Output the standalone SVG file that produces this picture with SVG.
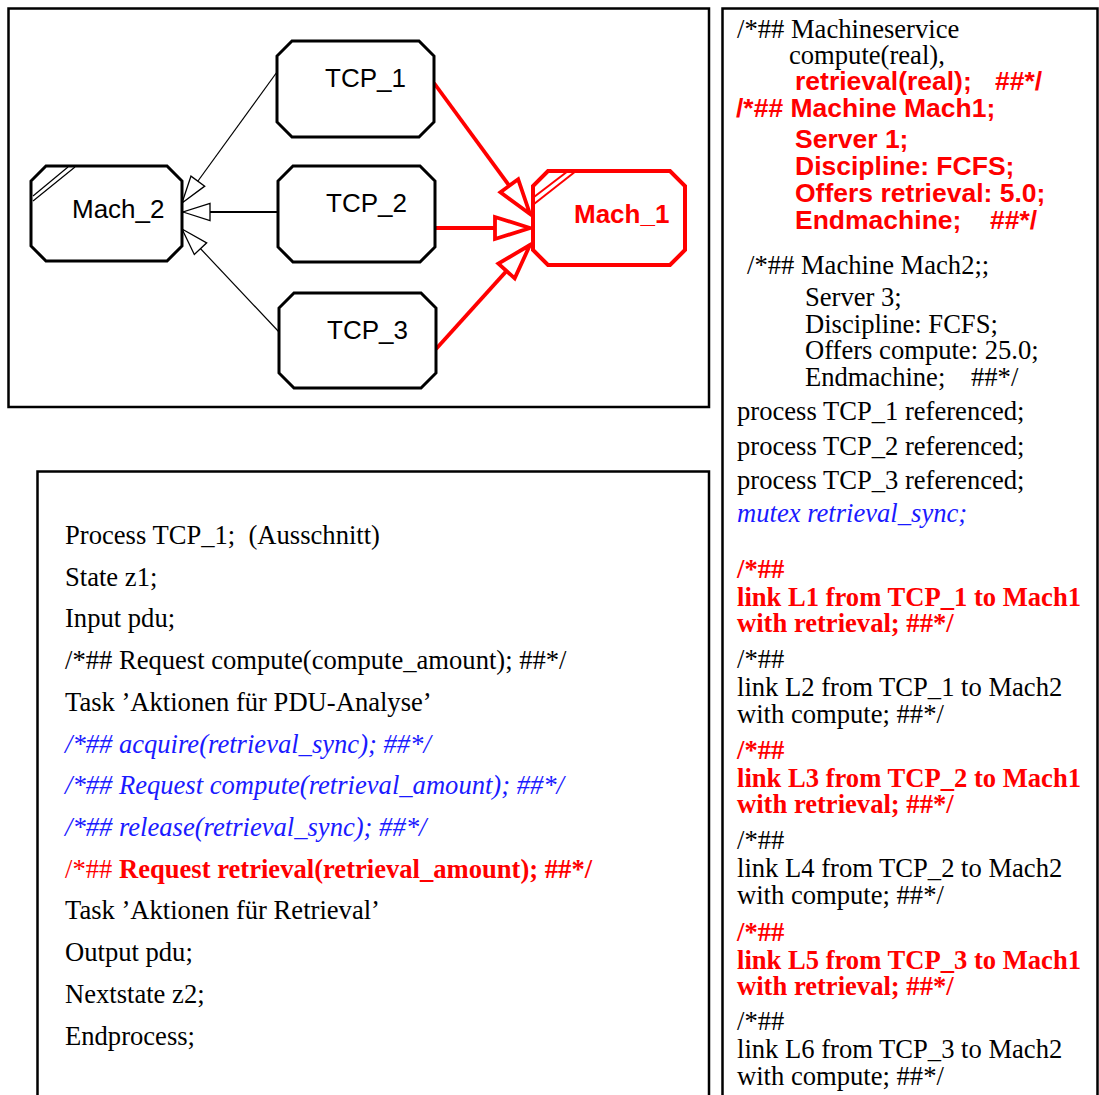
<svg xmlns="http://www.w3.org/2000/svg" width="1099" height="1095" viewBox="0 0 1099 1095" xml:space="preserve">
  <style>
    text { white-space: pre; }
    .panel { fill: none; stroke: #000; stroke-width: 2.5; }
    .node { fill: #fff; stroke: #000; stroke-width: 3; stroke-linejoin: miter; }
    .node-red { fill: #fff; stroke: #ff0000; stroke-width: 4; }
    .hatch { stroke: #000; stroke-width: 1.2; fill: none; }
    .hatch-red { stroke: #ff0000; stroke-width: 2; fill: none; }
    .lbl { font-family: "Liberation Sans", Arial, sans-serif; font-size: 26px; fill: #000; }
    .lbl-red { font-family: "Liberation Sans", Arial, sans-serif; font-size: 26px; font-weight: bold; fill: #ff0000; }
    .conn { fill: none; stroke: #000; stroke-width: 1.2; }
    .conn-mid { fill: none; stroke: #000; stroke-width: 2; }
    .conn-red { fill: none; stroke: #ff0000; stroke-width: 3.8; }
    .code { font-family: "Liberation Serif", "Times New Roman", serif; font-size: 26.6px; fill: #000; }
    .code-red { font-family: "Liberation Serif", "Times New Roman", serif; font-size: 26.6px; font-weight: bold; fill: #ff0000; }
    .code-redlite { font-family: "Liberation Serif", "Times New Roman", serif; font-size: 26.6px; fill: #ff0000; }
    .code-blue { font-family: "Liberation Serif", "Times New Roman", serif; font-size: 26.6px; font-style: italic; fill: #1a1aff; }
    .sans-red { font-family: "Liberation Sans", Arial, sans-serif; font-size: 26.5px; font-weight: bold; fill: #ff0000; }
  </style>
  <defs>
    <marker id="arrowOpen" markerUnits="userSpaceOnUse" viewBox="-30 -12 32 24" refX="0" refY="0" markerWidth="32" markerHeight="24" orient="auto" overflow="visible">
      <path d="M0,0 L-27,-8.5 L-27,8.5 Z" fill="#fff" stroke="#000" stroke-width="1.3"/>
    </marker>
    <marker id="arrowOpenRed" markerUnits="userSpaceOnUse" viewBox="-40 -14 42 28" refX="0" refY="0" markerWidth="42" markerHeight="28" orient="auto" overflow="visible">
      <path d="M0,0 L-35,-11 L-35,11 Z" fill="#fff" stroke="#ff0000" stroke-width="3.8" stroke-linejoin="miter"/>
    </marker>
  </defs>

  <rect fill="#fff" x="0" y="0" width="1099" height="1095"/>

  <!-- panel frames -->
  <g id="frames">
    <rect class="panel" x="8.5" y="8.5" width="700.5" height="398.5"/>
    <path class="panel" d="M37.5,1100 V471.5 H709 V1100"/>
    <path class="panel" d="M722.5,1100 V8.5 H1097.5 V1100"/>
  </g>

  <!-- connectors -->
  <g id="connectors">
    <line class="conn" x1="277" y1="72" x2="182" y2="203" marker-end="url(#arrowOpen)"/>
    <line class="conn-mid" x1="278" y1="212" x2="183" y2="212" marker-end="url(#arrowOpen)"/>
    <line class="conn" x1="279" y1="332" x2="182" y2="229" marker-end="url(#arrowOpen)"/>
    <line class="conn-red" x1="434" y1="83" x2="530" y2="214" marker-end="url(#arrowOpenRed)"/>
    <line class="conn-red" x1="435" y1="228" x2="530" y2="228" marker-end="url(#arrowOpenRed)"/>
    <line class="conn-red" x1="436" y1="349" x2="530" y2="245" marker-end="url(#arrowOpenRed)"/>
  </g>

  <!-- process nodes -->
  <g id="TCP_1">
    <path class="node" d="M292,41 H419 L434,56 V122 L419,137 H292 L277,122 V56 Z"/>
    <text class="lbl" x="325" y="87">TCP_1</text>
  </g>
  <g id="TCP_2">
    <path class="node" d="M293,166 H420 L435,181 V247 L420,262 H293 L278,247 V181 Z"/>
    <text class="lbl" x="326" y="212">TCP_2</text>
  </g>
  <g id="TCP_3">
    <path class="node" d="M294,293 H421 L436,308 V373 L421,388 H294 L279,373 V308 Z"/>
    <text class="lbl" x="327" y="339">TCP_3</text>
  </g>

  <!-- machine nodes -->
  <g id="Mach_2">
    <path class="node" d="M46,166 H167 L182,181 V246 L167,261 H46 L31,246 V181 Z"/>
    <line class="hatch" x1="33" y1="196" x2="68" y2="167"/>
    <line class="hatch" x1="33" y1="201" x2="75" y2="167"/>
    <text class="lbl" x="72" y="218">Mach_2</text>
  </g>
  <g id="Mach_1">
    <path class="node-red" d="M548,171 H670 L685,186 V250 L670,265 H548 L533,250 V186 Z"/>
    <line class="hatch-red" x1="534" y1="197" x2="568" y2="171"/>
    <line class="hatch-red" x1="534" y1="204" x2="576" y2="171"/>
    <text class="lbl-red" x="574" y="223">Mach_1</text>
  </g>

  <!-- process body listing -->
  <g id="process-listing">
    <text class="code" x="65" y="544">Process TCP_1;  (Ausschnitt)</text>
    <text class="code" x="65" y="586">State z1;</text>
    <text class="code" x="65" y="627">Input pdu;</text>
    <text class="code" x="65" y="669">/*## Request compute(compute_amount); ##*/</text>
    <text class="code" x="65" y="711">Task ’Aktionen für PDU-Analyse’</text>
    <text class="code-blue" x="65" y="753">/*## acquire(retrieval_sync); ##*/</text>
    <text class="code-blue" x="65" y="794">/*## Request compute(retrieval_amount); ##*/</text>
    <text class="code-blue" x="65" y="836">/*## release(retrieval_sync); ##*/</text>
    <text class="code-redlite" x="65" y="878">/*## <tspan class="code-red">Request retrieval(retrieval_amount); ##*/</tspan></text>
    <text class="code" x="65" y="919">Task ’Aktionen für Retrieval’</text>
    <text class="code" x="65" y="961">Output pdu;</text>
    <text class="code" x="65" y="1003">Nextstate z2;</text>
    <text class="code" x="65" y="1045">Endprocess;</text>
  </g>

  <!-- system declarations -->
  <g id="declarations">
    <text class="code" x="737" y="38">/*## Machineservice</text>
    <text class="code" x="789" y="64">compute(real),</text>
    <text class="sans-red" x="795" y="90">retrieval(real);<tspan x="995">##*/</tspan></text>
    <text class="sans-red" x="736" y="117">/*## Machine Mach1;</text>
    <text class="sans-red" x="795" y="148">Server 1;</text>
    <text class="sans-red" x="795" y="175">Discipline: FCFS;</text>
    <text class="sans-red" x="795" y="202">Offers retrieval: 5.0;</text>
    <text class="sans-red" x="795" y="229">Endmachine;<tspan x="990">##*/</tspan></text>

    <text class="code" x="747" y="274">/*## Machine Mach2;;</text>
    <text class="code" x="805" y="306">Server 3;</text>
    <text class="code" x="805" y="333">Discipline: FCFS;</text>
    <text class="code" x="805" y="359">Offers compute: 25.0;</text>
    <text class="code" x="805" y="386">Endmachine;<tspan x="971">##*/</tspan></text>

    <text class="code" x="737" y="420">process TCP_1 referenced;</text>
    <text class="code" x="737" y="455">process TCP_2 referenced;</text>
    <text class="code" x="737" y="489">process TCP_3 referenced;</text>
    <text class="code-blue" x="737" y="522">mutex retrieval_sync;</text>
  </g>

  <!-- link declarations -->
  <g id="links">
    <text class="code-red" x="737" y="578">/*##</text>
    <text class="code-red" x="737" y="606">link L1 from TCP_1 to Mach1</text>
    <text class="code-red" x="737" y="632">with retrieval; ##*/</text>
    <text class="code" x="737" y="668">/*##</text>
    <text class="code" x="737" y="696">link L2 from TCP_1 to Mach2</text>
    <text class="code" x="737" y="723">with compute; ##*/</text>
    <text class="code-red" x="737" y="759">/*##</text>
    <text class="code-red" x="737" y="787">link L3 from TCP_2 to Mach1</text>
    <text class="code-red" x="737" y="813">with retrieval; ##*/</text>
    <text class="code" x="737" y="849">/*##</text>
    <text class="code" x="737" y="877">link L4 from TCP_2 to Mach2</text>
    <text class="code" x="737" y="904">with compute; ##*/</text>
    <text class="code-red" x="737" y="941">/*##</text>
    <text class="code-red" x="737" y="969">link L5 from TCP_3 to Mach1</text>
    <text class="code-red" x="737" y="995">with retrieval; ##*/</text>
    <text class="code" x="737" y="1030">/*##</text>
    <text class="code" x="737" y="1058">link L6 from TCP_3 to Mach2</text>
    <text class="code" x="737" y="1085">with compute; ##*/</text>
  </g>
</svg>
